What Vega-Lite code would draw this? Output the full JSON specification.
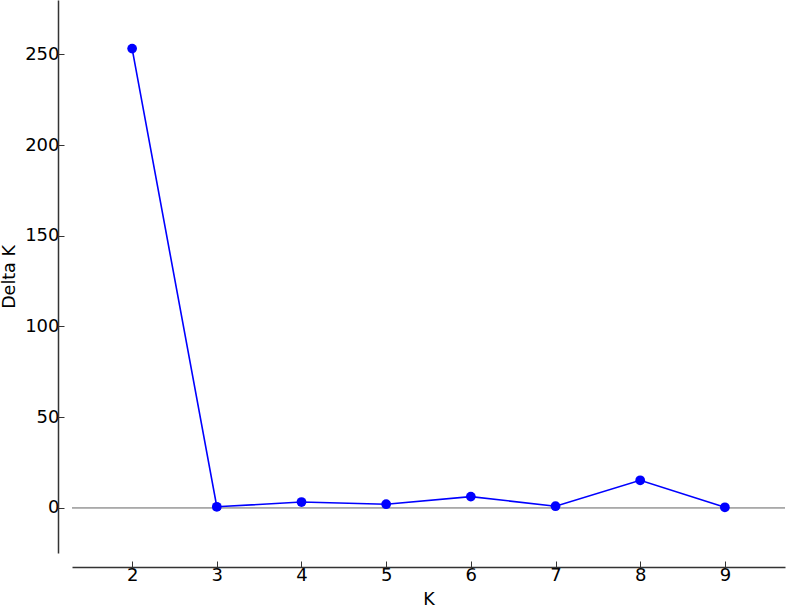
{
  "$schema": "https://vega.github.io/schema/vega-lite/v6.json",
  "width": 713,
  "height": 553,
  "autosize": "none",
  "padding": {"left": 72, "top": 0, "right": 2, "bottom": 55},
  "background": "white",
  "config": {
    "view": {"stroke": null},
    "font": "DejaVu Sans",
    "axis": {
      "grid": false,
      "domainColor": "#333333",
      "domainWidth": 1.5,
      "tickColor": "#333333",
      "tickWidth": 1,
      "tickSize": -6,
      "labelFont": "DejaVu Sans",
      "labelFontSize": 18,
      "labelColor": "#000000",
      "titleFont": "DejaVu Sans",
      "titleFontSize": 17.5,
      "titleFontWeight": "normal",
      "titleColor": "#000000"
    }
  },
  "data": {
    "values": [
      {"K": 2, "DeltaK": 253.2},
      {"K": 3, "DeltaK": 0.5},
      {"K": 4, "DeltaK": 3.1},
      {"K": 5, "DeltaK": 1.9},
      {"K": 6, "DeltaK": 6.1},
      {"K": 7, "DeltaK": 0.8},
      {"K": 8, "DeltaK": 15.1},
      {"K": 9, "DeltaK": 0.2}
    ]
  },
  "layer": [
    {
      "mark": {"type": "rule", "color": "#aaaaaa", "strokeWidth": 1},
      "encoding": {"y": {"datum": 0, "type": "quantitative"}}
    },
    {
      "mark": {"type": "line", "color": "#0000ff", "strokeWidth": 1.6, "point": {"filled": true, "size": 95, "color": "#0000ff", "opacity": 1}},
      "encoding": {
        "x": {
          "field": "K",
          "type": "quantitative",
          "scale": {"domain": [1.29, 9.71], "nice": false, "zero": false},
          "axis": {"title": "K", "offset": 14, "values": [2, 3, 4, 5, 6, 7, 8, 9], "labelPadding": 5, "titlePadding": 6}
        },
        "y": {
          "field": "DeltaK",
          "type": "quantitative",
          "scale": {"domain": [-25, 280], "nice": false, "zero": false},
          "axis": {"title": "Delta K", "offset": 14, "values": [0, 50, 100, 150, 200, 250], "labelPadding": 5, "titlePadding": 6}
        }
      }
    }
  ]
}
